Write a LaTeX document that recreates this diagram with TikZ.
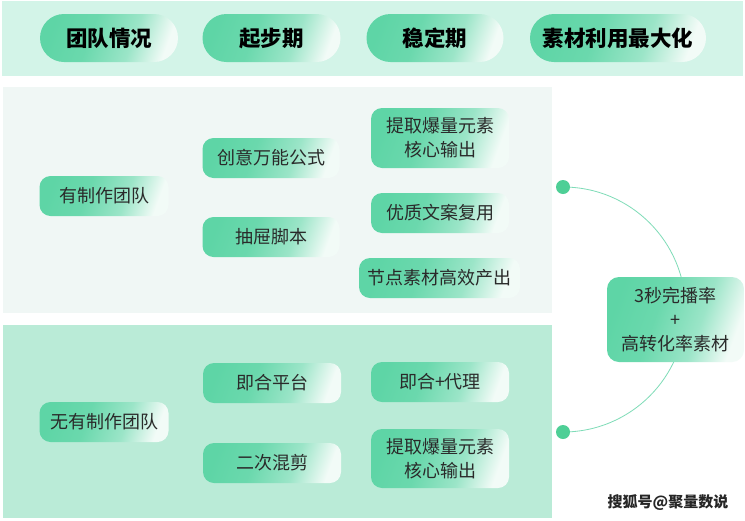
\documentclass[tikz,border=0pt]{standalone}
\usepackage{fontspec}
\setmainfont{Noto Sans CJK SC}
\definecolor{gA}{HTML}{5ED5A6}
\definecolor{gB}{HTML}{F2FBF7}
\definecolor{bandc}{HTML}{D3F4E8}
\definecolor{upperc}{HTML}{F0F7F5}
\definecolor{lowerc}{HTML}{BAEBD7}
\definecolor{arcc}{HTML}{7FDCB8}
\definecolor{dotc}{HTML}{4ECF96}
\definecolor{txt}{HTML}{2A2A2A}
\pgfdeclarehorizontalshading{gfade}{100bp}{color(0bp)=(gA); color(25bp)=(gA); color(42bp)=(gA!92!white); color(60bp)=(gA!62!white); color(75bp)=(gB); color(100bp)=(gB)}
\begin{document}
\begin{tikzpicture}[x=1pt,y=-1pt,
  gshade/.style={shading=gfade, shading angle=-20},
  pill/.style={gshade, rounded corners=24pt, minimum height=48pt, inner sep=0pt,
    font=\fontsize{21.5}{24}\selectfont\bfseries, text=black},
  box/.style={gshade, rounded corners=11pt, minimum height=40pt, inner sep=0pt,
    font=\fontsize{18}{24}\selectfont, text=txt, align=center},
  dotn/.style={circle, fill=dotc, minimum size=14pt, inner sep=0pt}]
\useasboundingbox (0,0) rectangle (745,520);
\fill[white] (0,0) rectangle (745,520);
% panels
\fill[bandc] (2,1) rectangle (743,76);
\fill[upperc] (3,87) rectangle (552,313);
\fill[lowerc] (3,325) rectangle (552,518);
% header pills
\node[pill, minimum width=138pt] (h1) at (109,38) {团队情况};
\node[pill, minimum width=138pt] (h2) at (271.5,38) {起步期};
\node[pill, minimum width=137pt] (h3) at (435,38) {稳定期};
\node[pill, minimum width=176pt] (h4) at (618,38) {素材利用最大化};
% upper panel
\node[box, minimum width=129pt] (a0) at (104,196) {有制作团队};
\node[box, minimum width=137pt] (a1) at (271,158) {创意万能公式};
\node[box, minimum width=137pt] (a2) at (271,237) {抽屉脚本};
\node[box, minimum width=138pt, minimum height=60pt] (a3) at (440,138) {提取爆量元素\\核心输出};
\node[box, minimum width=138pt] (a4) at (440,213) {优质文案复用};
\node[box, minimum width=161pt] (a5) at (439.5,278) {节点素材高效产出};
% lower panel
\node[box, minimum width=129pt] (b0) at (104,422) {无有制作团队};
\node[box, minimum width=138pt] (b1) at (272,383) {即合平台};
\node[box, minimum width=138pt] (b2) at (272,463) {二次混剪};
\node[box, minimum width=138pt] (b3) at (440,382) {即合+代理};
\node[box, minimum width=138pt, minimum height=59pt] (b4) at (440,458.5) {提取爆量元素\\核心输出};
% right side
\coordinate (d1c) at (563,187);
\draw[arcc, line width=0.8pt] (d1c) arc[start angle=-90, end angle=90, radius=122.5];
\node[dotn] (d1) at (563,187) {};
\node[dotn] (d2) at (563,432) {};
\node[box, minimum width=137pt, minimum height=85pt, rounded corners=12pt] (res) at (675.5,319.5) {3秒完播率\\+\\高转化率素材};
% watermark
\node[font=\fontsize{15}{18}\selectfont\bfseries, text=black!85, inner sep=0pt] (wm) at (668,502) {搜狐号@聚量数说};
\end{tikzpicture}
\end{document}
